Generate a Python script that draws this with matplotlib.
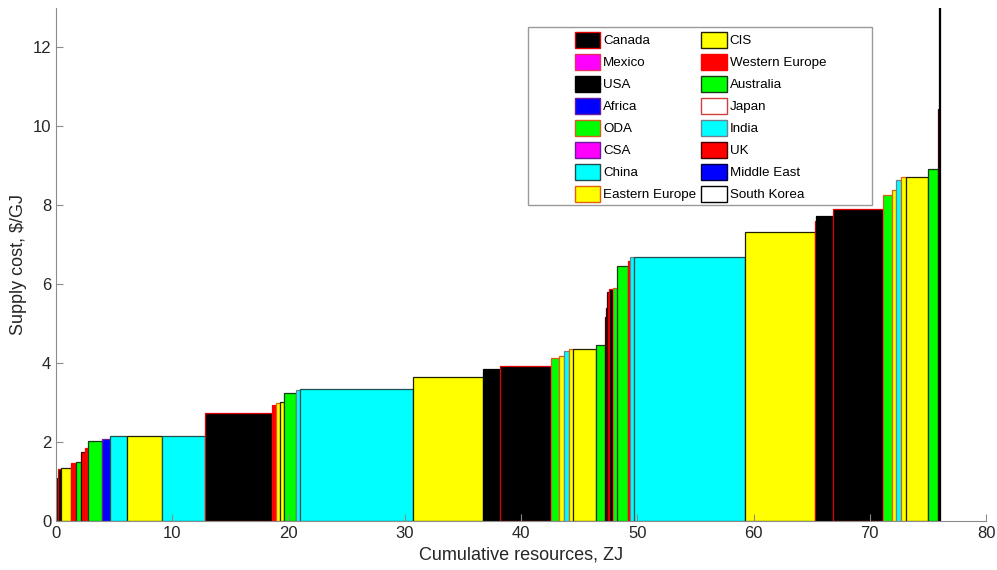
import numpy as np
import matplotlib.pyplot as plt
from matplotlib.patches import Patch, Rectangle

plt.rcParams['font.family'] = ['Liberation Sans', 'DejaVu Sans']

# width of each resource step (ZJ), in order along the curve
widths = [0.08, 0.10, 0.27, 0.85, 0.40, 0.45, 0.35, 0.25, 1.20, 0.70,
          1.45, 3.00, 3.70, 5.80, 0.30, 0.40, 0.30, 1.05, 0.35, 9.70,
          6.00, 1.50, 4.40, 0.70, 0.40, 0.40, 0.40, 1.95, 0.75, 0.10,
          0.10, 0.15, 0.35, 0.35, 0.95, 0.20, 0.30, 9.60, 6.00, 0.10,
          1.40, 4.30, 0.80, 0.40, 0.40, 0.40, 1.90, 0.85, 0.07, 0.08]
# supply cost of each step ($/GJ)
costs = [0.86, 1.10, 1.33, 1.35, 1.47, 1.50, 1.75, 1.85, 2.03, 2.08,
         2.15, 2.15, 2.15, 2.74, 2.94, 3.00, 3.02, 3.24, 3.32, 3.35,
         3.66, 3.85, 3.94, 4.13, 4.19, 4.31, 4.36, 4.36, 4.46, 5.18,
         5.40, 5.80, 5.88, 5.90, 6.45, 6.60, 6.68, 6.69, 7.33, 7.60,
         7.72, 7.90, 8.25, 8.38, 8.64, 8.72, 8.72, 8.92, 10.45, 14.0]
step_region = ['UK', 'UK', 'Canada', 'CIS', 'Western Europe', 'Australia', 'UK',
               'Western Europe', 'Australia', 'Africa',
               'China', 'CIS', 'China', 'Canada', 'Western Europe', 'Eastern Europe',
               'CIS', 'Australia', 'India', 'China',
               'CIS', 'USA', 'Canada', 'ODA', 'Eastern Europe', 'India',
               'Eastern Europe', 'CIS', 'Australia', 'UK',
               'UK', 'UK', 'Canada', 'ODA', 'Australia', 'Western Europe', 'India',
               'China', 'CIS', 'Canada',
               'USA', 'Canada', 'ODA', 'Eastern Europe', 'India', 'Eastern Europe',
               'CIS', 'Australia', 'UK', 'USA']

regions = ['Canada', 'Mexico', 'USA', 'Africa', 'ODA', 'CSA', 'China', 'Eastern Europe',
           'CIS', 'Western Europe', 'Australia', 'Japan', 'India', 'UK', 'Middle East',
           'South Korea']
face = {'Canada': 'black', 'Mexico': 'magenta', 'USA': 'black', 'Africa': 'blue',
        'ODA': '#00ff00', 'CSA': 'magenta', 'China': 'cyan', 'Eastern Europe': 'yellow',
        'CIS': 'yellow', 'Western Europe': 'red', 'Australia': '#00ff00', 'Japan': 'white',
        'India': 'cyan', 'UK': 'red', 'Middle East': 'blue', 'South Korea': 'white'}
edge = {'Canada': '#e00000', 'Mexico': '#e83060', 'USA': 'black', 'Africa': '#6a1a9a',
        'ODA': '#d2601e', 'CSA': '#6a1a9a', 'China': '#1f4f4f', 'Eastern Europe': '#e06010',
        'CIS': '#202000', 'Western Europe': '#ff0000', 'Australia': '#1a3a1a', 'Japan': '#d04040',
        'India': '#708090', 'UK': '#400000', 'Middle East': '#000040', 'South Korea': 'black'}

starts = np.concatenate([[0], np.cumsum(widths)[:-1]])

fig = plt.figure(figsize=(9.97, 5.70), dpi=100)
ax = fig.add_axes([56/997, 49/570, 930/997, 513/570])

ax.bar(starts, costs, width=widths, align='edge',
       color=[face[r] for r in step_region],
       edgecolor=[edge[r] for r in step_region], linewidth=0.9)

ax.set_xlim(0, 80)
ax.set_ylim(0, 13)
ax.set_xticks(np.arange(0, 81, 10))
ax.set_yticks(np.arange(0, 13, 2))
for s in ['top', 'right']:
    ax.spines[s].set_visible(False)
for s in ['left', 'bottom']:
    ax.spines[s].set_color('#8c8c8c')
ax.tick_params(direction='in', length=5, colors='#8c8c8c', labelcolor='#262626', labelsize=12)
ax.set_xlabel('Cumulative resources, ZJ', fontsize=13, color='#262626')
ax.set_ylabel(r'Supply cost, \$/GJ', fontsize=13, color='#262626')

# legend box (MATLAB style, wider than its entries)
fig.patches.append(Rectangle((528/997, 1 - 205/570), 344/997, 178/570,
                             transform=fig.transFigure, facecolor='white',
                             edgecolor='#9a9a9a', linewidth=1.0, zorder=3))
handles = [Patch(facecolor=face[r], edgecolor=edge[r], linewidth=1.0, label=r) for r in regions]
leg = fig.legend(handles=handles, ncol=2, loc='upper left',
                 bbox_to_anchor=(575/997, 1 - 31.5/570), fontsize=9.6,
                 frameon=False,
                 handlelength=1.9, handleheight=1.55, handletextpad=0.22,
                 columnspacing=0.37, labelspacing=0.4, borderpad=0,
                 borderaxespad=0)
leg.set_zorder(4)

fig.savefig('out.png', dpi=100)
